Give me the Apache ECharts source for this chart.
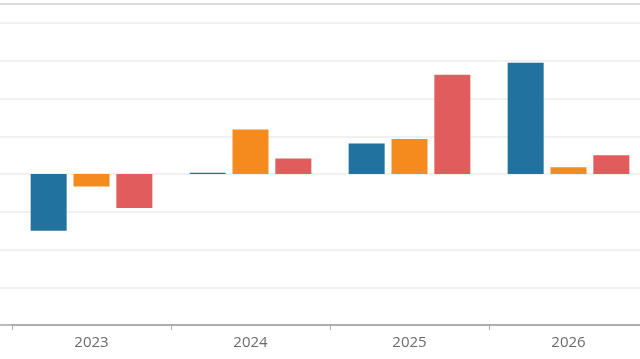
<!DOCTYPE html>
<html><head><meta charset="utf-8">
<script src="https://cdn.jsdelivr.net/npm/echarts@6/dist/echarts.min.js"></script>
<style>html,body{margin:0;padding:0;background:#fff}#c{width:640px;height:359px}</style>
</head><body><div id="c"></div>
<script>
const categories = ['2023', '2024', '2025', '2026'];
const seriesBlue = [-1.50, 0.03, 0.81, 2.95];
const seriesOrange = [-0.33, 1.18, 0.93, 0.18];
const seriesRed = [-0.90, 0.41, 2.63, 0.50];
const yMin = -4, yMax = 4, yInterval = 1;

const chart = echarts.init(document.getElementById('c'));
chart.setOption({
  animation: false,
  backgroundColor: '#fff',
  grid: [
    { left: 12, width: 636, top: 23, bottom: 34, containLabel: false, outerBoundsMode: 'none' },
    { left: 0, width: 640, top: 23, bottom: 34, containLabel: false, outerBoundsMode: 'none' }
  ],
  graphic: [{ type: 'rect', shape: { x: 0, y: 3, width: 640, height: 2 }, style: { fill: '#dcdcdc' } }],
  xAxis: [{
    type: 'category', data: categories, gridIndex: 0,
    axisLine: { onZero: false, lineStyle: { color: '#a8a8a8', width: 1.5 } },
    axisTick: { show: true, length: 5, lineStyle: { color: '#a8a8a8' } },
    axisLabel: { color: '#6b6b6b', fontSize: 15, margin: 10, fontFamily: 'Open Sans' }
  }, {
    type: 'value', gridIndex: 1, min: 0, max: 1,
    axisLine: { show: true, onZero: false, lineStyle: { color: '#a8a8a8', width: 1.5 } },
    axisTick: { show: false }, axisLabel: { show: false }, splitLine: { show: false }
  }],
  yAxis: [{
    type: 'value', min: yMin, max: yMax, interval: yInterval, gridIndex: 0,
    axisLabel: { show: false }, axisLine: { show: false }, axisTick: { show: false },
    splitLine: { show: false }, z: 3
  }, {
    type: 'value', min: yMin, max: yMax, interval: yInterval, gridIndex: 1,
    axisLabel: { show: false }, axisLine: { show: false }, axisTick: { show: false },
    splitLine: { lineStyle: { color: '#ececec', width: 1.5 } }, z: 0
  }],
  series: [
    { type: 'bar', data: seriesBlue, barWidth: 36, barGap: '19%', itemStyle: { color: '#21729f' } },
    { type: 'bar', data: seriesOrange, barWidth: 36, barGap: '19%', itemStyle: { color: '#f58b1f' } },
    { type: 'bar', data: seriesRed, barWidth: 36, barGap: '19%', itemStyle: { color: '#e05c5d' } }
  ]
});
</script></body></html>
